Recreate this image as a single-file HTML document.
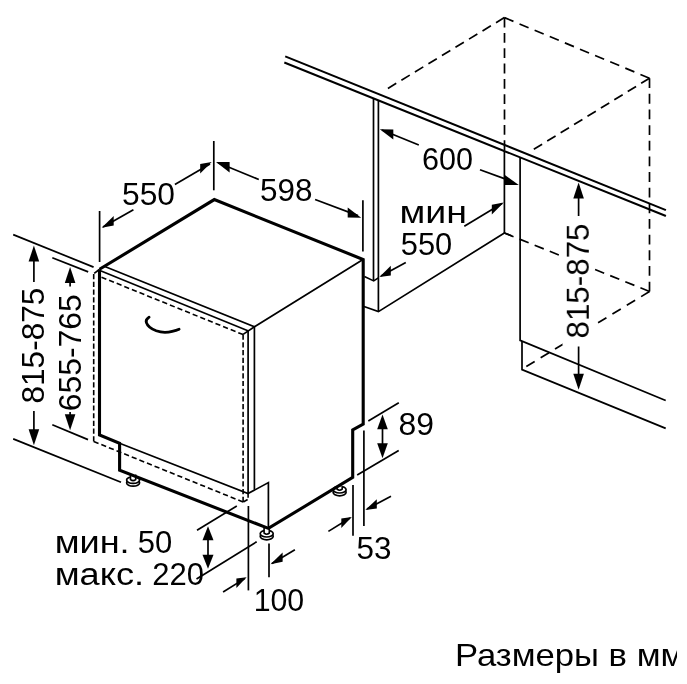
<!DOCTYPE html>
<html>
<head>
<meta charset="utf-8">
<title>Размеры в мм</title>
<style>
html,body{margin:0;padding:0;background:#fff;}
body{width:687px;height:684px;overflow:hidden;font-family:"Liberation Sans",sans-serif;}
svg{display:block;}
text{font-family:"Liberation Sans",sans-serif;fill:#000;}
.k{stroke:#000;stroke-width:3.1;fill:none;stroke-linejoin:miter;stroke-linecap:butt;}
.m{stroke:#000;stroke-width:2.05;fill:none;}
.n{stroke:#000;stroke-width:1.7;fill:none;}
.d{stroke:#000;stroke-width:1.6;fill:none;}
.D{stroke:#000;stroke-width:1.7;fill:none;}
.a{fill:#000;stroke:none;}
</style>
</head>
<body>
<svg width="687" height="684" viewBox="0 0 687 684">
<defs>
<clipPath id="cp"><rect x="0" y="0" width="676.5" height="684"/></clipPath>
<!-- arrow head pointing to +x, tip at origin -->
<path id="ah" d="M0 0 L-16 -5.3 L-16 5.3 Z"/>
<g id="foot">
<ellipse cx="0" cy="1.7" rx="6.5" ry="3.5" fill="#fff" stroke="#000" stroke-width="1.7"/>
<ellipse cx="0" cy="-0.9" rx="6.5" ry="3.3" fill="#fff" stroke="#000" stroke-width="1.7"/>
<path d="M-2.6 -6.5 L-2.6 -1.4 Q0 0.6 2.6 -1.4 L2.6 -6.5" fill="#fff" stroke="#000" stroke-width="1.6"/>
</g>
<g id="footb">
<ellipse cx="0" cy="1.7" rx="6.5" ry="3.5" fill="#fff" stroke="#000" stroke-width="1.7"/>
<ellipse cx="0" cy="-0.9" rx="6.5" ry="3.3" fill="#fff" stroke="#000" stroke-width="1.7"/>
<path d="M-2.6 -4.2 L-2.6 -1.4 Q0 0.6 2.6 -1.4 L2.6 -4.2" fill="#fff" stroke="#000" stroke-width="1.6"/>
</g>
</defs>
<rect width="687" height="684" fill="#fff"/>

<!-- ===== countertop ===== -->
<g id="counter">
<path class="m" d="M285.2 56.4 L665.9 210.1"/>
<path class="m" d="M284.3 62.5 L665.9 216"/>
</g>

<!-- ===== dashed cabinet box ===== -->
<g id="dashbox">
<path class="D" stroke-dasharray="9.80 6.02" d="M504.4 17.6 L387.9 88.4"/>
<path class="D" stroke-dasharray="9.80 6.58" d="M504.4 17.6 L649.5 78.2"/>
<path class="D" stroke-dasharray="9.80 5.53" d="M504.5 17.6 L504.5 150.0"/>
<path class="D" stroke-dasharray="9.80 5.95" d="M649.5 78.2 L533.8 149.3"/>
<path class="D" stroke-dasharray="9.80 5.85" d="M649.5 78.2 L649.5 291.5"/>
<path class="D" stroke-dasharray="9.80 6.49" d="M649.5 291.5 L504.4 233.0"/>
<path class="D" stroke-dasharray="9.80 7.01" d="M649.5 291.5 L526.3 366.6"/>
</g>

<rect x="562.5" y="221" width="31" height="124.5" fill="#fff"/>
<!-- ===== cabinet / niche solid lines ===== -->
<g id="niche">
<path class="n" d="M373.5 98 L373.5 280.5"/>
<path class="n" d="M378.4 100 L378.4 311.6"/>
<path class="n" d="M364.4 276.6 L373.7 280.9 L378.4 277.9"/>
<path class="n" d="M364 306.5 L378.4 311.6 L504.4 233"/>
<path class="n" d="M504.4 150.5 L504.4 233 L512 236"/>
<path class="n" d="M520.1 158 L520.1 340.4 L665.7 400.5"/>
<path class="n" d="M522 341 L522 369.6 L665.7 428.4"/>
</g>

<!-- feet placements -->
<use href="#foot" transform="translate(133.1 481)"/>
<use href="#foot" transform="translate(266.7 534.6)"/>
<use href="#footb" transform="translate(339.6 490.6)"/>
<!-- ===== dishwasher body ===== -->
<g id="body">
<!-- thin -->
<path class="n" d="M104.8 266.5 L254.5 326.75 L363.4 259.3"/>
<path class="n" d="M100.5 270.8 L247.9 330.7"/>
<path class="n" d="M248.1 330.4 L248.1 493.6"/>
<path class="n" d="M254.4 326.8 L254.4 489.6"/>
<path class="n" d="M119.6 443.2 L248 493.6 L268.4 482.6 L268.4 528"/>
<!-- dashed door outline -->
<path class="d" stroke-dasharray="5.20 2.53" d="M93.7 274.0 L93.7 441.5"/>
<path class="d" stroke-dasharray="5.20 3.01" d="M93.7 441.5 L243.1 502.0"/>
<path class="d" stroke-dasharray="5.20 2.52" d="M243.1 334.6 L243.1 502.0"/>
<path class="d" stroke-dasharray="5.20 3.00" d="M101.5 277.2 L243.1 334.6"/>
<path class="n" stroke-width="1.4" d="M99 269.8 L94.2 273.4"/>
<path class="n" d="M243.1 334.4 L254.5 326.75"/>
<path class="d" stroke-dasharray="5 2" d="M243.3 502 L248.1 499.2 L248.1 494"/>
<!-- thick outline -->
<path class="k" d="M99.5 269.3 L214.3 199.6 L363.2 259.5 L363.2 424 L352.7 429.9 L352.7 477.3 L268.4 528.4 L119.6 470.2 L119.6 443.2 L99.5 434.9 L99.5 269.3"/>
<!-- handle -->
<path d="M149.1 317.2 C146.7 318.8 145.7 320.8 146.4 322.6 C147.5 326 151.5 329 156.2 330.8 C161 332.5 168 332.5 172.2 331.3 C175 330.7 177.5 329.9 179.1 329.2" fill="none" stroke="#000" stroke-width="2.8" stroke-linecap="round"/>
</g>

<!-- ===== dimension lines ===== -->
<g id="dims">
<!-- left height dims -->
<path class="n" d="M13.2 234.6 L93.6 267.1"/>
<path class="n" d="M52.3 257.7 L88.2 271.9"/>
<path class="n" d="M13.2 438.9 L121 482.3"/>
<path class="n" d="M52.3 424.7 L88 439.6"/>
<path class="n" d="M33.9 250 L33.9 282"/>
<path class="n" d="M33.9 411 L33.9 440"/>
<path class="n" d="M70.1 272 L70.1 286.5"/>
<path class="n" d="M70.1 412 L70.1 425"/>
<use href="#ah" class="a" transform="translate(33.9 245.6) rotate(-90)"/>
<use href="#ah" class="a" transform="translate(33.9 445.3) rotate(90)"/>
<use href="#ah" class="a" transform="translate(70.1 267.1) rotate(-90)"/>
<use href="#ah" class="a" transform="translate(70.1 430.2) rotate(90)"/>

<!-- top ext lines -->
<path class="n" d="M99.6 211 L99.6 262"/>
<path class="n" d="M213.8 141 L213.8 190.3"/>
<path class="n" d="M362.9 200.2 L362.9 251.4"/>
<!-- 550 -->
<path class="n" d="M103 227 L133.4 209.7"/>
<path class="n" d="M174.9 184.5 L210 164"/>
<path class="a" d="M101.7 227.7 L113.7 215.9 L113.7 225.5 Z"/>
<path class="a" d="M211.7 162.0 L200.2 164.0 L200.2 173.4 Z"/>
<!-- 598 -->
<path class="n" d="M218 162.8 L258.8 179.5"/>
<path class="n" d="M315.1 199.5 L358 215.6"/>
<path class="a" d="M216.0 162.0 L229.6 162.0 L229.6 172.4 Z"/>
<path class="a" d="M361.2 217.8 L347.7 207.6 L347.7 217.6 Z"/>

<!-- 600 -->
<path class="n" d="M382 130 L418.8 145"/>
<path class="n" d="M480 169.8 L505 178.9"/>
<path class="a" d="M379.8 129.2 L393.3 129.5 L393.3 139.5 Z"/>
<path class="a" d="M504.2 174.6 L518.8 184.9 L504.2 184.9 Z"/>
<!-- min 550 -->
<path class="n" d="M381 276 L405.8 262.4"/>
<path class="n" d="M464.3 226.3 L502 203.4"/>
<path class="a" d="M379.4 277.0 L390.8 265.8 L390.8 275.4 Z"/>
<path class="a" d="M503.8 202.4 L491.8 204.8 L491.8 214.4 Z"/>

<!-- right 815-875 -->
<path class="n" d="M578.6 186 L578.6 216"/>
<path class="n" d="M578.6 346.5 L578.6 386"/>
<use href="#ah" class="a" transform="translate(578.6 182.5) rotate(-90)"/>
<use href="#ah" class="a" transform="translate(578.6 389.7) rotate(90)"/>

<!-- 89 -->
<path class="n" d="M368.3 421.1 L398.8 402.8"/>
<path class="n" d="M357.2 474.9 L398.7 450.4"/>
<path class="n" d="M382.5 420 L382.5 453"/>
<use href="#ah" class="a" transform="translate(382.5 414.4) rotate(-90) scale(0.93 1)"/>
<use href="#ah" class="a" transform="translate(382.5 458.2) rotate(90) scale(0.93 1)"/>
<!-- 53 -->
<path class="n" d="M363.9 430.5 L363.9 526.1"/>
<path class="n" d="M353 485 L353 535.8"/>
<path class="n" d="M367 509 L391 496.3"/>
<path class="n" d="M350 518 L328.4 531.4"/>
<path class="a" d="M365.3 510.0 L376.8 499.2 L376.8 508.5 Z"/>
<path class="a" d="M351.8 517.0 L341.3 518.6 L341.3 527.9 Z"/>
<!-- 50/220 -->
<path class="n" d="M236.8 506 L197 530.2"/>
<path class="n" d="M256.7 541.7 L196.5 579"/>
<path class="n" d="M208 531 L208 564"/>
<use href="#ah" class="a" transform="translate(208 526.3) rotate(-90) scale(0.875 1.04)"/>
<use href="#ah" class="a" transform="translate(208 568.8) rotate(90) scale(0.875 1.04)"/>
<!-- 100 -->
<path class="n" d="M248.4 506 L248.4 590.4"/>
<path class="n" d="M269 543.4 L269 577.3"/>
<path class="n" d="M223.1 592 L245 578.4"/>
<path class="n" d="M272 563.4 L294.9 549.8"/>
<path class="a" d="M246.6 577.3 L236.4 578.5 L236.4 587.9 Z"/>
<path class="a" d="M270.5 564.2 L282.6 552.5 L282.6 561.8 Z"/>
</g>


<!-- ===== text ===== -->
<g id="txt" font-size="31" style="opacity:0.999">
<text x="122" y="204.8" textLength="53" lengthAdjust="spacingAndGlyphs">550</text>
<text x="260" y="201.3" textLength="52.5" lengthAdjust="spacingAndGlyphs">598</text>
<text x="422" y="170" textLength="51" lengthAdjust="spacingAndGlyphs">600</text>
<text x="399.4" y="223" textLength="67.5" lengthAdjust="spacingAndGlyphs">мин</text>
<text x="400.8" y="255" textLength="51.5" lengthAdjust="spacingAndGlyphs">550</text>
<text x="398.6" y="435" textLength="35.5" lengthAdjust="spacingAndGlyphs">89</text>
<text x="356.5" y="558.8" textLength="35" lengthAdjust="spacingAndGlyphs">53</text>
<text x="253.7" y="610.7" textLength="50.5" lengthAdjust="spacingAndGlyphs">100</text>
<text x="54.7" y="553.3" textLength="74.9" lengthAdjust="spacingAndGlyphs">мин.</text>
<text x="137.8" y="553.3">50</text>
<text x="54.7" y="584.7" textLength="89.4" lengthAdjust="spacingAndGlyphs">макс.</text>
<text x="152.2" y="584.7">220</text>
<g clip-path="url(#cp)">
<text x="455" y="666.3" font-size="32" textLength="229.3" lengthAdjust="spacingAndGlyphs">Размеры в мм</text>
</g>
<text transform="translate(44 345.6) rotate(-90)" text-anchor="middle" textLength="116" lengthAdjust="spacingAndGlyphs">815-875</text>
<text transform="translate(81.3 352.8) rotate(-90)" text-anchor="middle" textLength="117" lengthAdjust="spacingAndGlyphs">655-765</text>
<text transform="translate(588.8 281) rotate(-90)" text-anchor="middle" textLength="115" lengthAdjust="spacingAndGlyphs">815-875</text>
</g>
</svg>
</body>
</html>
